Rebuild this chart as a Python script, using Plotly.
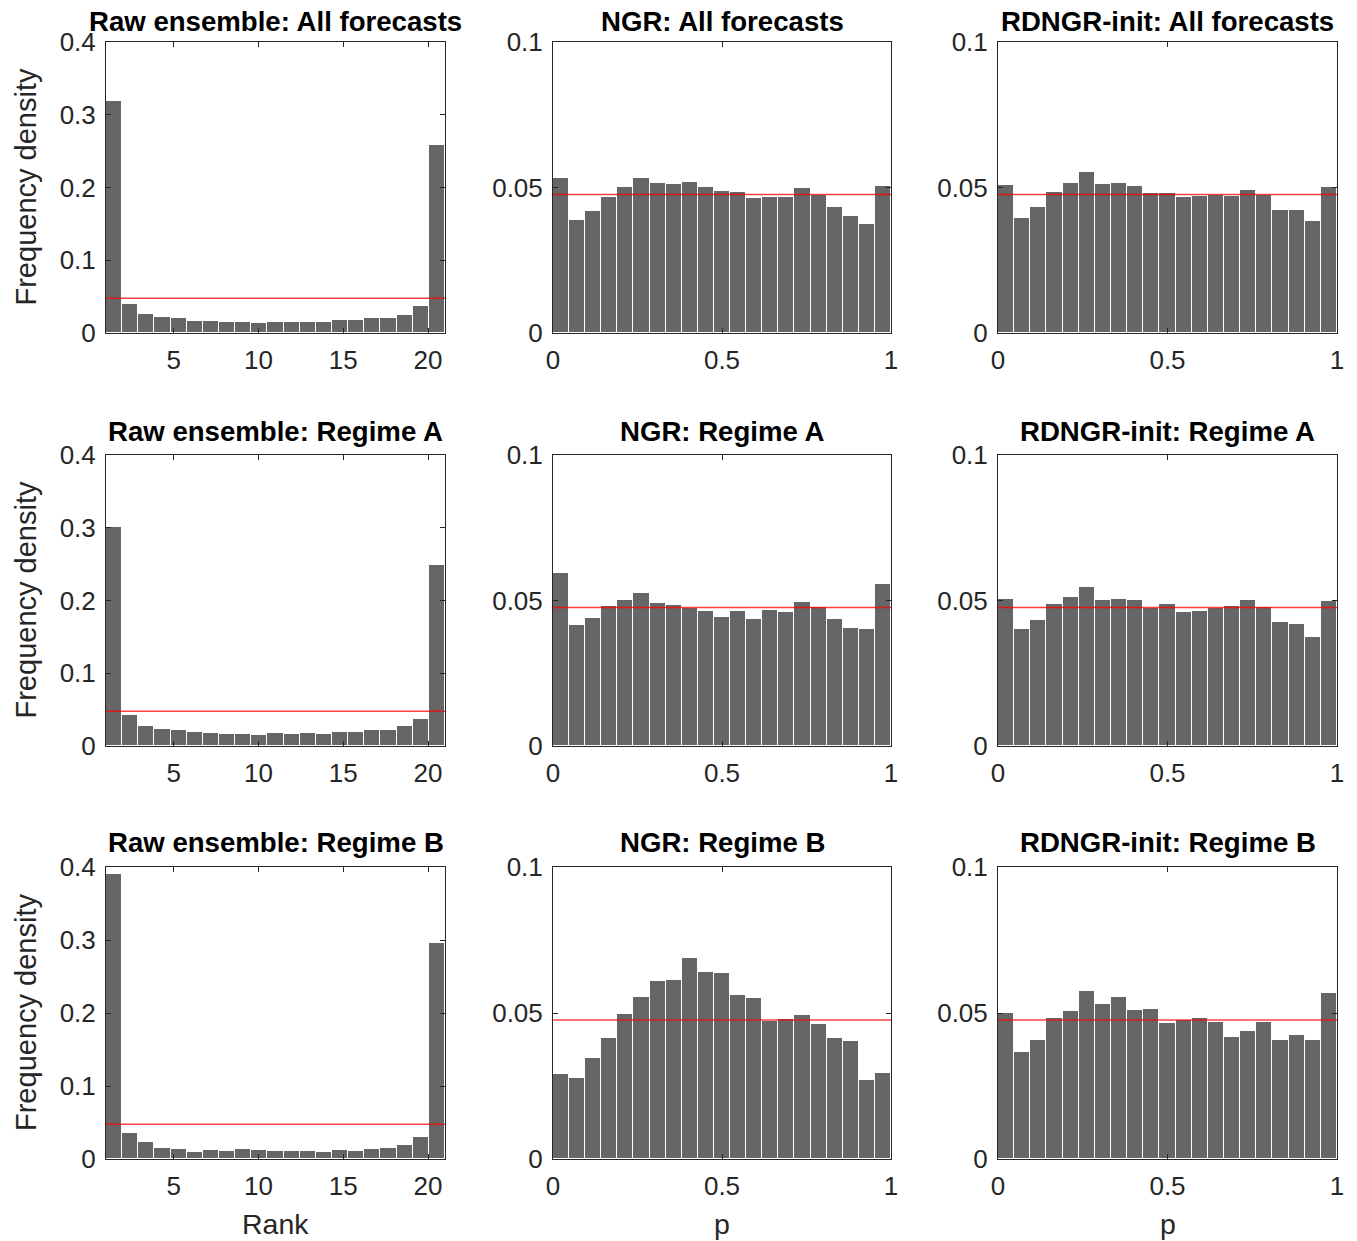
import numpy as np
import plotly.graph_objects as go

# ---------------- data ----------------
n_bins = 21
uniform_density = 1 / 21

raw_all = [0.319, 0.0403, 0.0266, 0.0215, 0.0202, 0.0165, 0.0165, 0.0147, 0.0147, 0.0137, 0.0147,
           0.0147, 0.0147, 0.0147, 0.0174, 0.0174, 0.0202, 0.0202, 0.0252, 0.0367, 0.258]
ngr_all = [0.0531, 0.0388, 0.0419, 0.0466, 0.0501, 0.0531, 0.0517, 0.0513, 0.0520, 0.0501, 0.0488,
           0.0485, 0.0463, 0.0468, 0.0466, 0.0497, 0.0475, 0.0434, 0.0402, 0.0373, 0.0504]
rd_all = [0.0507, 0.0395, 0.0432, 0.0486, 0.0514, 0.0554, 0.0511, 0.0517, 0.0504, 0.0482, 0.0482,
          0.0467, 0.0470, 0.0474, 0.0470, 0.0491, 0.0475, 0.0422, 0.0422, 0.0385, 0.0501]

raw_a = [0.3016, 0.0423, 0.0280, 0.0230, 0.0216, 0.0189, 0.0179, 0.0166, 0.0166, 0.0152, 0.0179,
         0.0166, 0.0179, 0.0166, 0.0189, 0.0189, 0.0216, 0.0216, 0.0280, 0.0377, 0.2492]
ngr_a = [0.0595, 0.0417, 0.0439, 0.0481, 0.0502, 0.0525, 0.0490, 0.0483, 0.0474, 0.0465, 0.0445,
         0.0465, 0.0436, 0.0468, 0.0461, 0.0495, 0.0477, 0.0436, 0.0405, 0.0401, 0.0556]
rd_a = [0.0505, 0.0401, 0.0433, 0.0487, 0.0511, 0.0547, 0.0502, 0.0505, 0.0502, 0.0474, 0.0487,
        0.0461, 0.0465, 0.0474, 0.0481, 0.0502, 0.0477, 0.0425, 0.0420, 0.0376, 0.0499]

raw_b = [0.391, 0.0356, 0.0233, 0.0155, 0.0132, 0.0091, 0.0119, 0.0105, 0.0132, 0.0119, 0.0105,
         0.0105, 0.0105, 0.0091, 0.0119, 0.0105, 0.0132, 0.0155, 0.0196, 0.0306, 0.2963]
ngr_b = [0.0292, 0.0276, 0.0345, 0.0415, 0.0498, 0.0556, 0.0610, 0.0613, 0.0690, 0.0639, 0.0636,
         0.0561, 0.0550, 0.0472, 0.0480, 0.0494, 0.0462, 0.0414, 0.0404, 0.0269, 0.0294]
rd_b = [0.0501, 0.0365, 0.0408, 0.0482, 0.0506, 0.0574, 0.0532, 0.0554, 0.0510, 0.0513, 0.0466,
        0.0477, 0.0482, 0.0470, 0.0418, 0.0440, 0.0470, 0.0408, 0.0424, 0.0408, 0.0570]

titles = [
    ["Raw ensemble: All forecasts", "NGR: All forecasts", "RDNGR-init: All forecasts"],
    ["Raw ensemble: Regime A", "NGR: Regime A", "RDNGR-init: Regime A"],
    ["Raw ensemble: Regime B", "NGR: Regime B", "RDNGR-init: Regime B"],
]
values = [
    [raw_all, ngr_all, rd_all],
    [raw_a, ngr_a, rd_a],
    [raw_b, ngr_b, rd_b],
]

rank_range = [1, 21]
p_range = [0, 1]
rank_ticks = [5, 10, 15, 20]
p_ticks = [0, 0.5, 1]
p_ticktext = ["0", "0.5", "1"]
raw_yticks = [0, 0.1, 0.2, 0.3, 0.4]
raw_yticktext = ["0", "0.1", "0.2", "0.3", "0.4"]
cal_yticks = [0, 0.05, 0.1]
cal_yticktext = ["0", "0.05", "0.1"]

# ---------------- layout geometry (page pixels) ----------------
W, H = 1357, 1241
col_px = [(106, 445), (553, 891), (998, 1337)]
row_px = [(42, 333), (455, 746), (867, 1159)]
title_gap = [3, 6, 7]


def px(xp):
    return xp / W


def py(yp):
    return 1 - yp / H


FONT = "Liberation Sans, Arial, Helvetica, sans-serif"
BAR_COLOR = "#666666"
AX_COLOR = "#262626"

fig = go.Figure()
annotations = []

for r in range(3):
    for c in range(3):
        k = r * 3 + c + 1
        xa = "x" if k == 1 else f"x{k}"
        ya = "y" if k == 1 else f"y{k}"
        rng = rank_range if c == 0 else p_range
        edges = np.linspace(rng[0], rng[1], n_bins + 1)
        centers = (edges[:-1] + edges[1:]) / 2
        widths = np.diff(edges)
        fig.add_trace(go.Bar(
            x=centers, y=values[r][c], width=widths,
            marker=dict(color=BAR_COLOR, line=dict(color="white", width=1)),
            xaxis=xa, yaxis=ya, showlegend=False, hoverinfo="skip",
        ))
        fig.add_trace(go.Scatter(
            x=[rng[0], rng[1]], y=[uniform_density, uniform_density], mode="lines",
            line=dict(color="rgba(255,0,0,0.75)", width=1.5),
            xaxis=xa, yaxis=ya, showlegend=False, hoverinfo="skip",
        ))

        x0, x1 = col_px[c]
        y0, y1 = row_px[r]
        common = dict(
            showline=True, linecolor=AX_COLOR, linewidth=1, mirror="ticks",
            ticks="inside", ticklen=5, tickcolor=AX_COLOR, tickwidth=1,
            showgrid=False, zeroline=False, automargin=False,
            tickfont=dict(family=FONT, size=26, color=AX_COLOR),
            fixedrange=True,
        )
        xkey = "xaxis" if k == 1 else f"xaxis{k}"
        ykey = "yaxis" if k == 1 else f"yaxis{k}"
        if c == 0:
            xcfg = dict(range=rank_range, tickvals=rank_ticks)
            ycfg = dict(range=[0, 0.4], tickvals=raw_yticks, ticktext=raw_yticktext)
        else:
            xcfg = dict(range=p_range, tickvals=p_ticks, ticktext=p_ticktext)
            ycfg = dict(range=[0, 0.1], tickvals=cal_yticks, ticktext=cal_yticktext)
        fig.update_layout({
            xkey: dict(domain=[px(x0), px(x1)], anchor=ya, **xcfg, **common, ticklabelstandoff=4),
            ykey: dict(domain=[py(y1), py(y0)], anchor=xa, **ycfg, **common, ticklabelstandoff=4),
        })
        annotations.append(dict(
            text=f"<b>{titles[r][c]}</b>", x=px((x0 + x1) / 2), y=py(y0),
            xref="paper", yref="paper", xanchor="center", yanchor="bottom",
            yshift=title_gap[r], showarrow=False,
            font=dict(family=FONT, size=27.6, color="black"),
        ))

for r in range(3):
    y0, y1 = row_px[r]
    annotations.append(dict(
        text="Frequency density", x=px(26), y=py((y0 + y1) / 2),
        xref="paper", yref="paper", xanchor="center", yanchor="middle",
        textangle=-90, showarrow=False,
        font=dict(family=FONT, size=29, color=AX_COLOR),
    ))

for c, lab in enumerate(["Rank", "p", "p"]):
    x0, x1 = col_px[c]
    annotations.append(dict(
        text=lab, x=px((x0 + x1) / 2), y=py(1224),
        xref="paper", yref="paper", xanchor="center", yanchor="middle",
        showarrow=False,
        font=dict(family=FONT, size=28.5, color=AX_COLOR),
    ))

fig.update_layout(
    template="none",
    width=W, height=H, autosize=False,
    margin=dict(l=0, r=0, t=0, b=0, pad=0, autoexpand=False),
    paper_bgcolor="white", plot_bgcolor="white",
    bargap=0, annotations=annotations,
    font=dict(family=FONT),
    showlegend=False,
)

fig.write_html("out.html", config={"displayModeBar": False})
